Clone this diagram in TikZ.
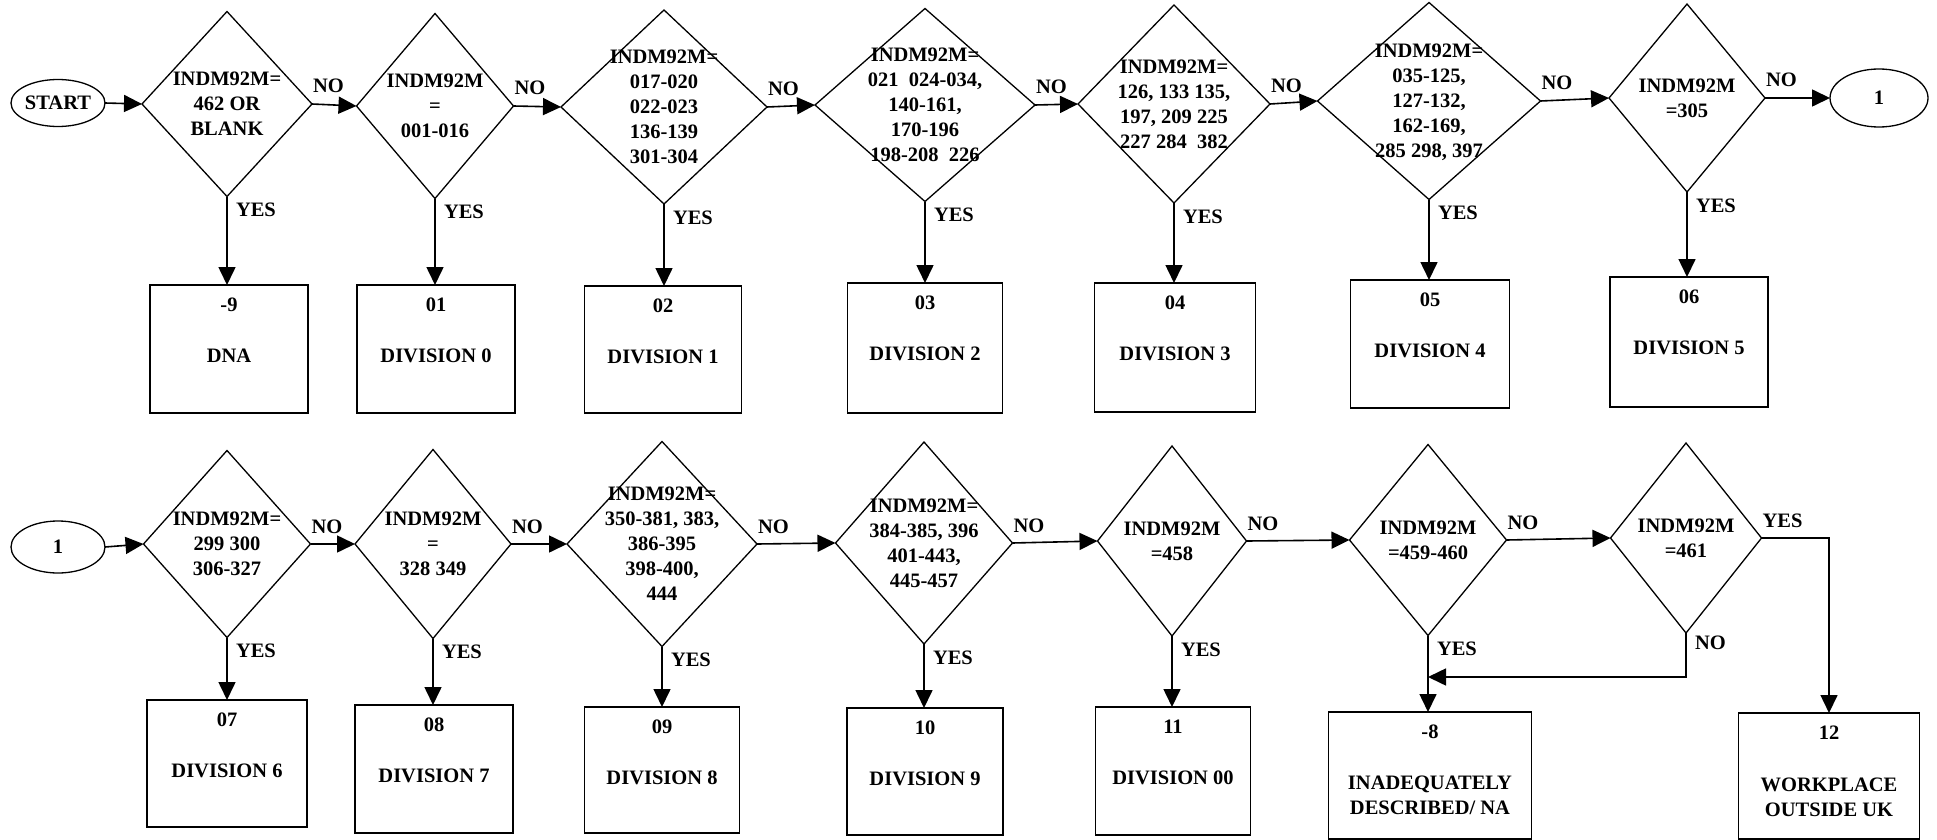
\documentclass[tikz,border=0pt]{standalone}
\usepackage{fontspec}
\setmainfont{Liberation Serif}
\usetikzlibrary{shapes.geometric,arrows.meta,calc}

% multi-line text centred in a decision diamond, not affecting its size
\newcommand\dlines[1]{\makebox[0pt]{\smash{\raisebox{-6.8pt}{\begin{tabular}{@{}c@{}}#1\end{tabular}}}}}

\tikzset{
  x=1pt, y=-1pt,
  every node/.style={font=\fontsize{20.5}{25}\selectfont\bfseries},
  dia/.style={diamond, draw, line width=1.3pt, inner sep=0pt, outer sep=0pt},
  rbox/.style={rectangle, draw, line width=1.6pt, inner sep=0pt, outer sep=0pt, anchor=north},
  term/.style={ellipse, draw, line width=1.3pt, inner sep=0pt, outer sep=0pt},
  lbl/.style={inner sep=0pt, outer sep=0pt},
  arr/.style={line width=1.6pt, -{Triangle[length=18pt,width=17pt]}},
}

% decision: name, x, y, width, height, lines
\newcommand\decision[6]{\node[dia, minimum width=#4pt, minimum height=#5pt] (#1) at (#2,#3) {\dlines{#6}};}
% result box: name, x, top, width, height, code, text, text offset
\newcommand\result[8]{%
  \node[rbox, minimum width=#4pt, minimum height=#5pt] (#1) at (#2,#3) {};
  \node[lbl] (#1-code) at ($(#1.north)+(0,20)$) {#6};
  \node[lbl, align=center] (#1-text) at ($(#1.north)+(0,#8)$) {#7};}
% branch labels
\newcommand\sidelabel[3]{\node[lbl, anchor=base west] (#1) at ($(#2.east)+(1,-11)$) {#3};}
\newcommand\downlabel[3]{\node[lbl, anchor=base west] (#1) at ($(#2.south)+(9,20)$) {#3};}

\begin{document}
\begin{tikzpicture}
\useasboundingbox[fill=white] (0,0) rectangle (1937,840);

% ---------- first row ----------
\node[term, minimum width=94pt, minimum height=47pt] (start) at (58,103) {START};
\decision{d1}{227}{104}{170}{185}{INDM92M=\\462 OR\\BLANK}
\decision{d2}{435}{106}{157}{185}{INDM92M\\=\\001-016}
\decision{d3}{664}{107}{206}{194}{INDM92M=\\017-020\\022-023\\136-139\\301-304}
\decision{d4}{925}{105}{220}{193}{INDM92M=\\021\ \ 024-034,\\140-161,\\170-196\\198-208\ \ 226}
\decision{d5}{1174}{104}{192}{198}{INDM92M=\\126, 133 135,\\197, 209 225\\227 284\ \ 382}
\decision{d6}{1429}{101}{223}{197}{INDM92M=\\035-125,\\127-132,\\162-169,\\285 298, 397}
\decision{d7}{1687}{98}{156}{188}{INDM92M\\=305}
\node[term, minimum width=98pt, minimum height=58pt] (c1a) at (1879,98) {1};

\result{r9}{229}{285}{158}{128}{-9}{DNA}{71}
\result{r01}{436}{285}{158}{128}{01}{DIVISION 0}{71}
\result{r02}{663}{286}{157}{127}{02}{DIVISION 1}{71}
\result{r03}{925}{283}{155}{130}{03}{DIVISION 2}{71}
\result{r04}{1175}{283}{161}{129}{04}{DIVISION 3}{71}
\result{r05}{1430}{280}{159}{128}{05}{DIVISION 4}{71}
\result{r06}{1689}{277}{158}{130}{06}{DIVISION 5}{71}

% ---------- second row ----------
\node[term, minimum width=94pt, minimum height=52pt] (c1b) at (58,547) {1};
\decision{d8}{227}{544}{167}{187}{INDM92M=\\299 300\\306-327}
\decision{d9}{433}{544}{156}{189}{INDM92M\\=\\328 349}
\decision{d10}{662}{544}{190}{205}{INDM92M=\\350-381, 383,\\386-395\\398-400,\\444}
\decision{d11}{924}{543}{177}{202}{INDM92M=\\384-385, 396\\401-443,\\445-457}
\decision{d12}{1172}{541}{149}{190}{INDM92M\\=458}
\decision{d13}{1428}{540}{157}{191}{INDM92M\\=459-460}
\decision{d14}{1686}{538}{151}{190}{INDM92M\\=461}

\result{r07}{227}{700}{160}{127}{07}{DIVISION 6}{71}
\result{r08}{434}{705}{158}{128}{08}{DIVISION 7}{71}
\result{r09}{662}{707}{155}{126}{09}{DIVISION 8}{71}
\result{r10}{925}{708}{156}{127}{10}{DIVISION 9}{71}
\result{r11}{1173}{707}{155}{128}{11}{DIVISION 00}{71}
\result{r8}{1430}{712}{203}{127}{-8}{INADEQUATELY\\DESCRIBED/ NA}{83}
\result{r12}{1829}{713}{181}{126}{12}{WORKPLACE\\OUTSIDE UK}{84}

% ---------- NO chain ----------
\draw[arr] (start.east) -- (d1.west);
\foreach \a/\b in {d1/d2, d2/d3, d3/d4, d4/d5, d5/d6, d6/d7, d7/c1a,
                   d8/d9, d9/d10, d10/d11, d11/d12, d12/d13, d13/d14}
  {\draw[arr] (\a.east) -- (\b.west);}
\draw[arr] (c1b.east) -- (d8.west);

\foreach \a in {d1,d2,d3,d4,d5,d6,d7,d8,d9,d10,d11,d12,d13}
  {\sidelabel{no-\a}{\a}{NO}}

% ---------- YES branches ----------
\foreach \a/\b in {d1/r9, d2/r01, d3/r02, d4/r03, d5/r04, d6/r05, d7/r06,
                   d8/r07, d9/r08, d10/r09, d11/r10, d12/r11, d13/r8}
  {\draw[arr] (\a.south) -- (\a.south |- \b.north);}

\foreach \a in {d1,d2,d3,d4,d5,d6,d7,d8,d9,d10,d11,d12,d13}
  {\downlabel{yes-\a}{\a}{YES}}

% last test: YES to the right, NO loops back
\draw[arr] (d14.east) -| (r12.north);
\sidelabel{yes-d14}{d14}{YES}
\coordinate (loop) at (0,677);
\draw[arr] (d14.south) |- (d13.south |- loop);
\node[lbl, anchor=base west] (no-d14) at ($(d14.south)+(9,16)$) {NO};
\end{tikzpicture}
\end{document}
